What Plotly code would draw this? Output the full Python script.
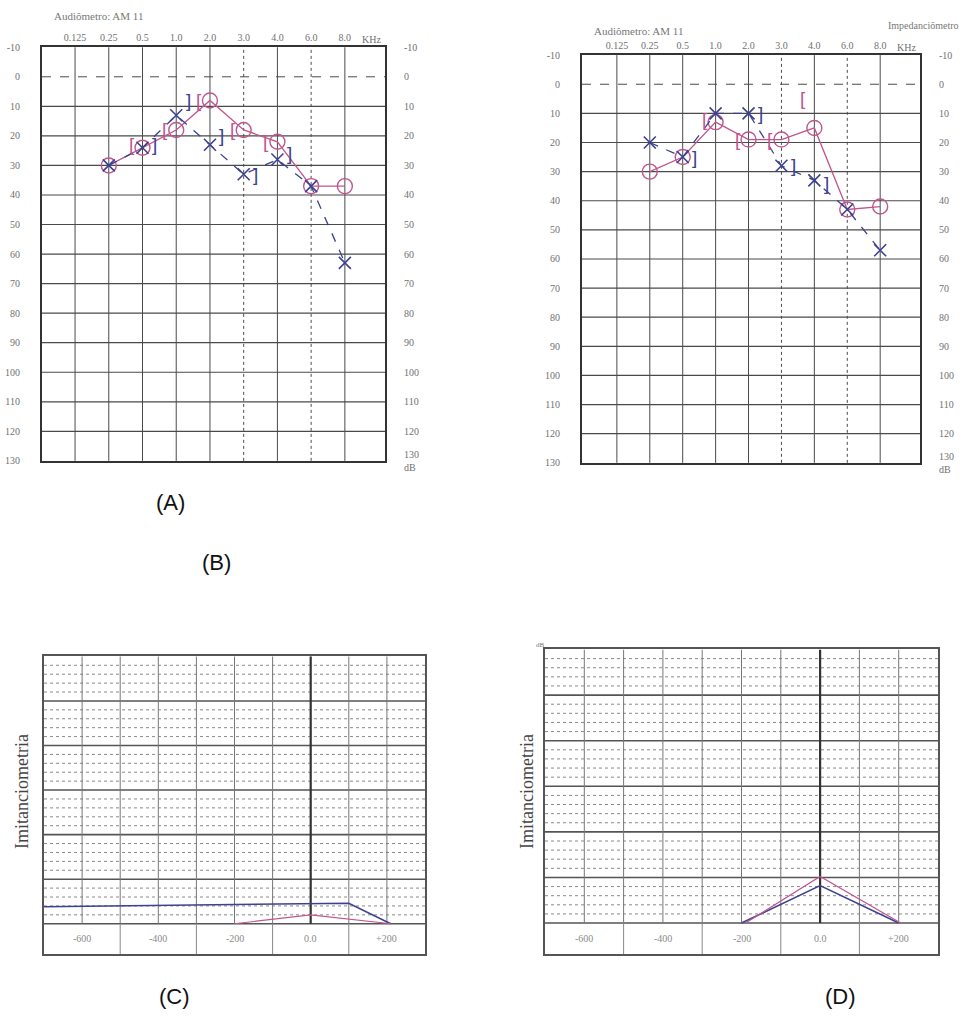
import plotly.graph_objects as go

W, H = 968, 1025

# ---------------- data ----------------
FREQ_LABELS = ["0.125", "0.25", "0.5", "1.0", "2.0", "3.0", "4.0", "6.0", "8.0"]
DOTTED_FREQS = ["3.0", "6.0"]
DB_TICKS = list(range(-10, 131, 10))

# Panel A
A_FREQS = ["0.25", "0.5", "1.0", "2.0", "3.0", "4.0", "6.0", "8.0"]
A_RIGHT_AIR = [30, 24, 18, 8, 18, 22, 37, 37]
A_LEFT_AIR = [30, 24, 13, 23, 33, 28, 37, 63]
A_RIGHT_BONE_FREQS = ["0.5", "1.0", "2.0", "3.0", "4.0"]
A_RIGHT_BONE = [23, 18, 8, 18, 22]
A_LEFT_BONE_FREQS = ["0.5", "1.0", "2.0", "3.0", "4.0"]
A_LEFT_BONE = [23, 8, 20, 33, 26]

# Panel B
B_FREQS = ["0.25", "0.5", "1.0", "2.0", "3.0", "4.0", "6.0", "8.0"]
B_RIGHT_AIR = [30, 25, 13, 19, 19, 15, 43, 42]
B_LEFT_AIR = [20, 25, 10, 10, 28, 33, 43, 57]
B_RIGHT_BONE_FREQS = ["1.0", "2.0", "3.0", "4.0"]
B_RIGHT_BONE = [12, 19, 19, 5]
B_LEFT_BONE_FREQS = ["0.5", "2.0", "3.0", "4.0"]
B_LEFT_BONE = [25, 10, 28, 34]

# Tympanograms (C, D)
TYMP_TICKS = [-600, -400, -200, 0, 200]
TYMP_LABELS = ["-600", "-400", "-200", "0.0", "+200"]
C_BLUE_P = [-700, 100, 210]
C_BLUE_C = [0.19, 0.23, 0.0]
C_PINK_P = [-200, 0, 210]
C_PINK_C = [0.0, 0.1, 0.0]
D_BLUE_P = [-200, 0, 200]
D_BLUE_C = [0.0, 0.41, 0.0]
D_PINK_P = [-190, 0, 205]
D_PINK_C = [0.0, 0.51, 0.0]

# ---------------- styles ----------------
PINK = "#c0568e"
BLUE = "#3c4290"
GRID = "#4a4a4a"
TXT = "#707070"
SERIF = "Liberation Serif"
SANS = "Liberation Sans"


def dx(a, b):
    return [a / W, b / W]


def dy(top, bottom):
    return [1 - bottom / H, 1 - top / H]


def idx(f):
    return FREQ_LABELS.index(f)


fig = go.Figure()
shapes = []
annotations = []


def audiogram(xa, ya, ya2, xdom, ydom, xrange_,
              r_air, l_air, freqs, rb_f, rb, lb_f, lb):
    xr = xa.replace("axis", "")
    yr = ya.replace("axis", "")
    yr2 = ya2.replace("axis", "")
    xs = [idx(f) for f in freqs]
    fig.add_trace(go.Scatter(
        x=xs, y=r_air, xaxis=xr, yaxis=yr, mode="lines+markers",
        line=dict(color=PINK, width=1.3),
        marker=dict(symbol="circle-open", size=15, color=PINK, line=dict(width=1.4)),
        showlegend=False, hoverinfo="skip"))
    fig.add_trace(go.Scatter(
        x=xs, y=l_air, xaxis=xr, yaxis=yr, mode="lines+markers",
        line=dict(color=BLUE, width=1.3, dash="dash"),
        marker=dict(symbol="x-thin-open", size=12, color=BLUE, line=dict(width=1.6, color=BLUE)),
        showlegend=False, hoverinfo="skip"))
    # dummy trace for the right-hand axis
    fig.add_trace(go.Scatter(
        x=[xs[0]], y=[r_air[0]], xaxis=xr, yaxis=yr2, mode="markers",
        marker=dict(opacity=0), showlegend=False, hoverinfo="skip"))
    for f, v in zip(rb_f, rb):
        annotations.append(dict(x=idx(f), y=v, xref=xr, yref=yr, text="[",
                                showarrow=False, xshift=-11,
                                font=dict(family=SANS, size=19, color=PINK)))
    for f, v in zip(lb_f, lb):
        annotations.append(dict(x=idx(f), y=v, xref=xr, yref=yr, text="]",
                                showarrow=False, xshift=12,
                                font=dict(family=SANS, size=19, color=BLUE)))
    # grid
    for i, f in enumerate(FREQ_LABELS):
        shapes.append(dict(type="line", xref=xr, yref=f"{yr} domain", x0=i, x1=i, y0=0, y1=1,
                           line=dict(color=GRID, width=1,
                                     dash="dot" if f in DOTTED_FREQS else "solid"),
                           layer="below"))
    for v in DB_TICKS[1:-1]:
        shapes.append(dict(type="line", xref=f"{xr} domain", yref=yr, x0=0, x1=1, y0=v, y1=v,
                           line=dict(color=GRID, width=1.2 if v else 1,
                                     dash="dash" if v == 0 else "solid"),
                           layer="below"))
    annotations.append(dict(x=len(FREQ_LABELS) - 0.2, y=DB_TICKS[0], xref=xr, yref=yr,
                            text="KHz", showarrow=False, yanchor="bottom", yshift=0,
                            font=dict(family=SERIF, size=10, color=TXT)))
    fig.layout[xa] = dict(domain=xdom, range=xrange_, side="top", anchor=yr,
                          tickvals=list(range(len(FREQ_LABELS))), ticktext=FREQ_LABELS,
                          ticks="", ticklabelstandoff=0, showgrid=False, zeroline=False,
                          showline=True, mirror=True, linewidth=2, linecolor="#333",
                          tickfont=dict(family=SERIF, size=10, color=TXT), fixedrange=True)
    fig.layout[ya] = dict(domain=ydom, range=[DB_TICKS[-1], DB_TICKS[0]], anchor=xr,
                          tickvals=DB_TICKS, ticktext=[str(v) for v in DB_TICKS],
                          ticks="", ticklabelstandoff=18, showgrid=False, zeroline=False,
                          showline=True, mirror=True, linewidth=2, linecolor="#333",
                          tickfont=dict(family=SERIF, size=10, color=TXT))
    rtext = [str(v) for v in DB_TICKS]
    rtext[-1] = rtext[-1] + "<br>dB"
    fig.layout[ya2] = dict(overlaying=yr, side="right", anchor=xr,
                           range=[DB_TICKS[-1], DB_TICKS[0]],
                           tickvals=DB_TICKS, ticktext=rtext, ticks="",
                           ticklabelstandoff=18, showgrid=False, zeroline=False,
                           showline=False,
                           tickfont=dict(family=SERIF, size=10, color=TXT))


audiogram("xaxis", "yaxis", "yaxis2", dx(42, 385), dy(42, 463), [-0.98, 9.19],
          A_RIGHT_AIR, A_LEFT_AIR, A_FREQS,
          A_RIGHT_BONE_FREQS, A_RIGHT_BONE, A_LEFT_BONE_FREQS, A_LEFT_BONE)
audiogram("xaxis2", "yaxis3", "yaxis4", dx(582, 920), dy(50, 465), [-1.06, 9.21],
          B_RIGHT_AIR, B_LEFT_AIR, B_FREQS,
          B_RIGHT_BONE_FREQS, B_RIGHT_BONE, B_LEFT_BONE_FREQS, B_LEFT_BONE)

Y_BAND = -0.34
Y_TOP = 3.0


def tymp(xa, ya, xdom, ydom, bp, bc, pp, pc, label_x):
    xr = xa.replace("axis", "")
    yr = ya.replace("axis", "")
    fig.add_trace(go.Scatter(x=bp, y=bc, xaxis=xr, yaxis=yr, mode="lines",
                             line=dict(color=BLUE, width=1.5), showlegend=False,
                             hoverinfo="skip"))
    fig.add_trace(go.Scatter(x=pp, y=pc, xaxis=xr, yaxis=yr, mode="lines",
                             line=dict(color=PINK, width=1.2), showlegend=False,
                             hoverinfo="skip"))
    # minor dotted lines
    for k in range(1, 30):
        if k % 5 == 0:
            continue
        shapes.append(dict(type="line", xref=f"{xr} domain", yref=yr, x0=0, x1=1,
                           y0=k / 10, y1=k / 10,
                           line=dict(color="#8a8a8a", width=1, dash="dot"), layer="below"))
    for k in range(0, 6):
        shapes.append(dict(type="line", xref=f"{xr} domain", yref=yr, x0=0, x1=1,
                           y0=k / 2, y1=k / 2,
                           line=dict(color="#555", width=1.6), layer="below"))
    for p in range(-600, 201, 100):
        shapes.append(dict(type="line", xref=xr, yref=yr, x0=p, x1=p, y0=0, y1=Y_TOP,
                           line=dict(color="#333" if p == 0 else "#777",
                                     width=2.2 if p == 0 else 1), layer="below"))
    for p in range(-500, 101, 200):
        shapes.append(dict(type="line", xref=xr, yref=yr, x0=p, x1=p, y0=Y_BAND, y1=0,
                           line=dict(color="#888", width=1), layer="below"))
    for p, t in zip(TYMP_TICKS, TYMP_LABELS):
        annotations.append(dict(x=p, y=Y_BAND / 2, xref=xr, yref=yr, text=t,
                                showarrow=False,
                                font=dict(family=SERIF, size=10, color="#8a8a8a")))
    fig.layout[xa] = dict(domain=xdom, range=[-700, 300], anchor=yr, showticklabels=False,
                          ticks="", showgrid=False, zeroline=False, showline=True,
                          mirror=True, linewidth=2, linecolor="#555")
    fig.layout[ya] = dict(domain=ydom, range=[Y_BAND, Y_TOP], anchor=xr, showticklabels=False,
                          ticks="", showgrid=False, zeroline=False, showline=True,
                          mirror=True, linewidth=2, linecolor="#555")
    annotations.append(dict(x=label_x / W, y=1 - 800 / H, xref="paper", yref="paper",
                            text="Imitanciometria", textangle=-90, showarrow=False,
                            xanchor="center", yanchor="middle",
                            font=dict(family=SERIF, size=18, color="#444")))


tymp("xaxis3", "yaxis5", dx(44, 425), dy(662, 965), C_BLUE_P, C_BLUE_C, C_PINK_P, C_PINK_C, 22)
tymp("xaxis4", "yaxis6", dx(545, 938), dy(655, 965), D_BLUE_P, D_BLUE_C, D_PINK_P, D_PINK_C, 527)

# header texts
for x, y, t, s in [(52, 10, "Audiômetro: AM 11", 11), (592, 25, "Audiômetro: AM 11", 11),
                   (886, 20, "Impedanciômetro", 10)]:
    annotations.append(dict(x=x / W, y=1 - y / H, xref="paper", yref="paper", text=t,
                            showarrow=False, xanchor="left", yanchor="middle",
                            font=dict(family=SERIF, size=s, color="#777")))
annotations.append(dict(x=540 / W, y=1 - 650 / H, xref="paper", yref="paper", text="dB",
                        showarrow=False, font=dict(family=SERIF, size=7, color="#777")))

# panel labels
for x, y, t in [(170, 505, "(A)"), (216, 566, "(B)"), (174, 1008, "(C)"), (840, 1008, "(D)")]:
    annotations.append(dict(x=x / W, y=1 - y / H, xref="paper", yref="paper", text=t,
                            showarrow=False, xanchor="center", yanchor="middle",
                            font=dict(family=SANS, size=22, color="#111")))

fig.update_layout(width=W, height=H, autosize=False,
                  margin=dict(l=0, r=0, t=0, b=0, pad=0),
                  paper_bgcolor="white", plot_bgcolor="white",
                  shapes=shapes, annotations=annotations, showlegend=False)

fig.write_html("out.html")
